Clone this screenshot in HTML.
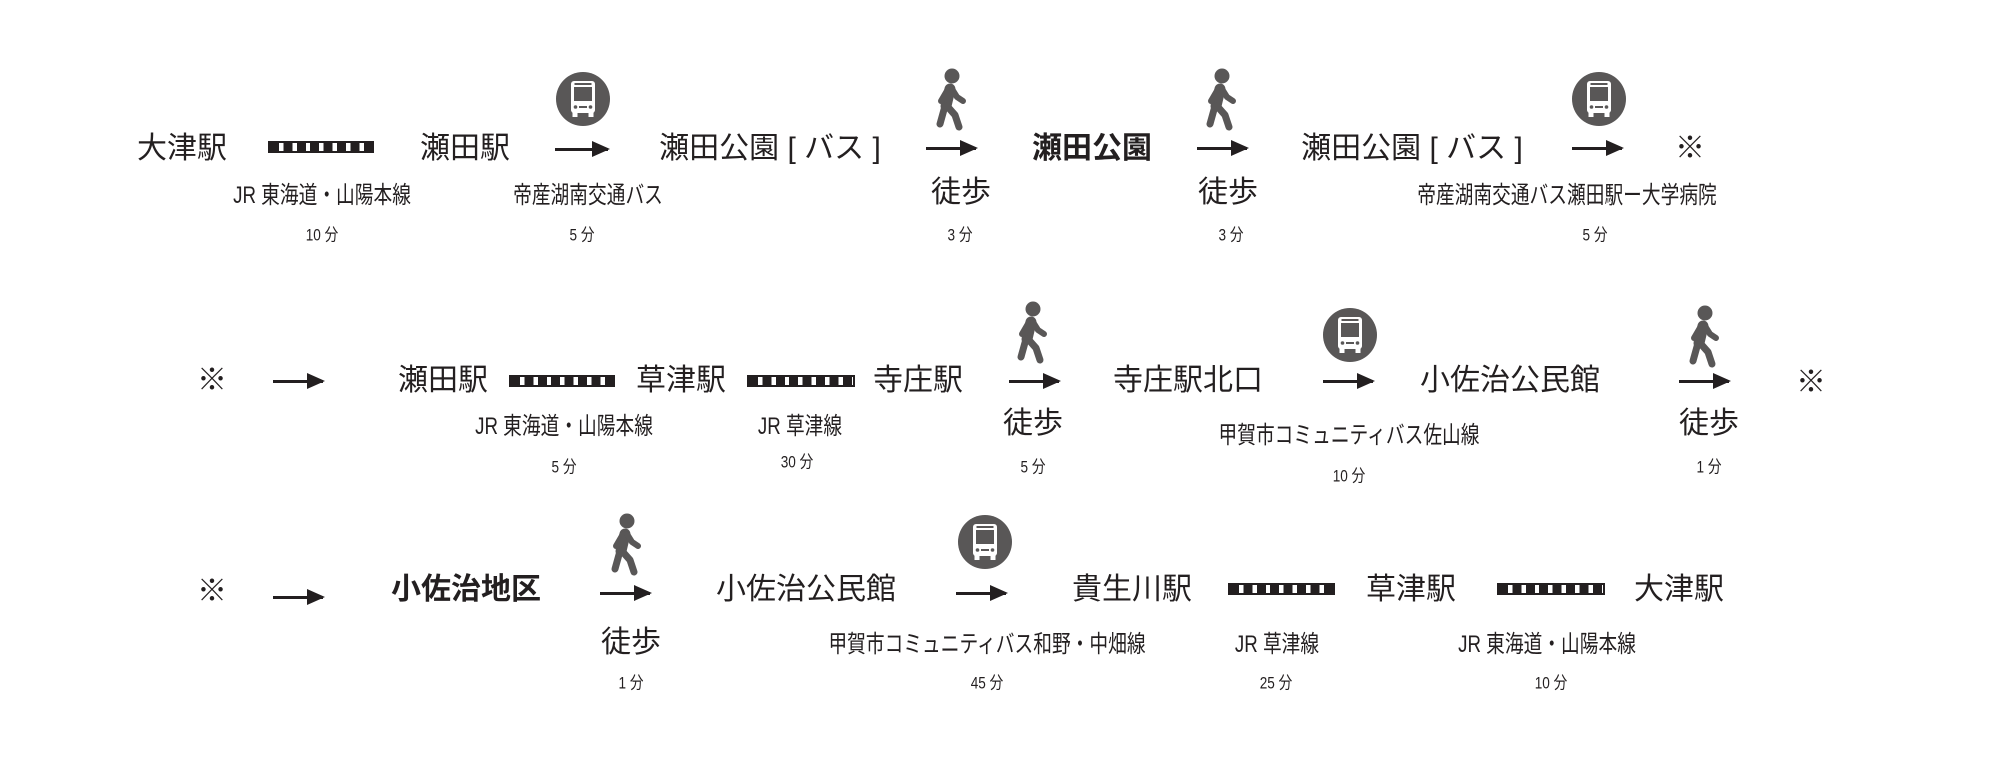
<!DOCTYPE html>
<html><head><meta charset="utf-8"><style>
body{margin:0;width:2000px;height:771px;background:#fff;position:relative;overflow:hidden;font-family:"Liberation Sans","Noto Sans CJK JP",sans-serif;color:#231f20}
.t{position:absolute;transform:translate(-50%,-50%);white-space:nowrap;line-height:1}
.m{font-size:30px}
.b{font-weight:bold}
.l{font-size:24px;transform:translate(-50%,-50%) scaleX(0.78)}
.n{font-size:17px;transform:translate(-50%,-50%) scaleX(0.8)}
.w{font-size:30px}
.bar{position:absolute;height:12px;margin-top:-6px;background:repeating-linear-gradient(90deg,#231f20 0 9px,#fff 9px 13.4px);border:2px solid #231f20;box-sizing:border-box}
.ar{position:absolute;height:3px;margin-top:-1.5px;background:#231f20}
.ar:after{content:"";position:absolute;right:-2px;top:-7px;border-left:18px solid #231f20;border-top:8.5px solid transparent;border-bottom:8.5px solid transparent}
.ic{position:absolute;transform:translate(-50%,-50%)}
</style></head><body>
<svg width="0" height="0" style="position:absolute"><defs>
<symbol id="bus" viewBox="0 0 54 54"><circle cx="27" cy="27" r="27" fill="#595757"/><rect x="15" y="9" width="24" height="32" rx="3" fill="#fff"/><rect x="18" y="15" width="18" height="14" fill="#595757"/><rect x="18.5" y="11" width="17" height="2" fill="#595757"/><circle cx="19.5" cy="35" r="1.8" fill="#595757"/><circle cx="34.5" cy="35" r="1.8" fill="#595757"/><rect x="23" y="34" width="8" height="2" fill="#595757"/><rect x="16.5" y="40" width="5" height="5" fill="#fff"/><rect x="32.5" y="40" width="5" height="5" fill="#fff"/></symbol>
<symbol id="walk" viewBox="0 0 40 64"><g fill="none" stroke="#595757" stroke-linecap="round" stroke-linejoin="round"><path d="M18 21 L14 38" stroke-width="11"/><path d="M16 21 L9 33" stroke-width="6"/><path d="M20 21 L25 29 L31 33" stroke-width="6"/><path d="M13 38 L8 56" stroke-width="7"/><path d="M15 38 L23 47 L27 59" stroke-width="7"/></g><circle cx="20" cy="8" r="7.5" fill="#595757"/></symbol>
</defs></svg>

<!-- Row 1 -->
<div class="t m" style="left:182px;top:149px">大津駅</div>
<div class="bar" style="left:268px;top:147px;width:106px"></div>
<div class="t m" style="left:465px;top:149px">瀬田駅</div>
<div class="ar" style="left:555px;top:149px;width:53px"></div>
<svg class="ic" style="left:583px;top:99px" width="54" height="54"><use href="#bus"/></svg>
<div class="t m" style="left:770px;top:149px">瀬田公園 [ バス ]</div>
<svg class="ic" style="left:952px;top:100px" width="40" height="64"><use href="#walk"/></svg>
<div class="ar" style="left:926px;top:148px;width:50px"></div>
<div class="t m b" style="left:1092px;top:149px">瀬田公園</div>
<svg class="ic" style="left:1222px;top:100px" width="40" height="64"><use href="#walk"/></svg>
<div class="ar" style="left:1197px;top:148px;width:50px"></div>
<div class="t m" style="left:1412px;top:149px">瀬田公園 [ バス ]</div>
<svg class="ic" style="left:1599px;top:99px" width="54" height="54"><use href="#bus"/></svg>
<div class="ar" style="left:1572px;top:148px;width:50px"></div>
<div class="t m" style="left:1690px;top:149px">※</div>

<div class="t l" style="left:322px;top:196px">JR 東海道・山陽本線</div>
<div class="t l" style="left:588px;top:196px">帝産湖南交通バス</div>
<div class="t w" style="left:961px;top:193px">徒歩</div>
<div class="t w" style="left:1228px;top:193px">徒歩</div>
<div class="t l" style="left:1567px;top:196px">帝産湖南交通バス瀬田駅ー大学病院</div>
<div class="t n" style="left:322px;top:235px">10 分</div>
<div class="t n" style="left:582px;top:235px">5 分</div>
<div class="t n" style="left:960px;top:235px">3 分</div>
<div class="t n" style="left:1231px;top:235px">3 分</div>
<div class="t n" style="left:1595px;top:235px">5 分</div>

<!-- Row 2 -->
<div class="t m" style="left:212px;top:381px">※</div>
<div class="ar" style="left:273px;top:381px;width:50px"></div>
<div class="t m" style="left:443px;top:381px">瀬田駅</div>
<div class="bar" style="left:509px;top:381px;width:106px"></div>
<div class="t m" style="left:681px;top:381px">草津駅</div>
<div class="bar" style="left:747px;top:381px;width:108px"></div>
<div class="t m" style="left:918px;top:381px">寺庄駅</div>
<svg class="ic" style="left:1033px;top:333px" width="40" height="64"><use href="#walk"/></svg>
<div class="ar" style="left:1009px;top:381px;width:50px"></div>
<div class="t m" style="left:1188px;top:381px">寺庄駅北口</div>
<svg class="ic" style="left:1350px;top:335px" width="54" height="54"><use href="#bus"/></svg>
<div class="ar" style="left:1323px;top:381px;width:50px"></div>
<div class="t m" style="left:1510px;top:381px">小佐治公民館</div>
<svg class="ic" style="left:1705px;top:337px" width="40" height="64"><use href="#walk"/></svg>
<div class="ar" style="left:1679px;top:381px;width:50px"></div>
<div class="t m" style="left:1811px;top:383px">※</div>

<div class="t l" style="left:564px;top:427px">JR 東海道・山陽本線</div>
<div class="t l" style="left:800px;top:427px">JR 草津線</div>
<div class="t w" style="left:1033px;top:424px">徒歩</div>
<div class="t l" style="left:1349px;top:436px">甲賀市コミュニティバス佐山線</div>
<div class="t w" style="left:1709px;top:424px">徒歩</div>
<div class="t n" style="left:564px;top:467px">5 分</div>
<div class="t n" style="left:797px;top:462px">30 分</div>
<div class="t n" style="left:1033px;top:467px">5 分</div>
<div class="t n" style="left:1349px;top:476px">10 分</div>
<div class="t n" style="left:1709px;top:467px">1 分</div>

<!-- Row 3 -->
<div class="t m" style="left:212px;top:592px">※</div>
<div class="ar" style="left:273px;top:597px;width:50px"></div>
<div class="t m b" style="left:466px;top:590px">小佐治地区</div>
<svg class="ic" style="left:627px;top:545px" width="40" height="64"><use href="#walk"/></svg>
<div class="ar" style="left:600px;top:593px;width:50px"></div>
<div class="t m" style="left:806px;top:590px">小佐治公民館</div>
<svg class="ic" style="left:985px;top:542px" width="54" height="54"><use href="#bus"/></svg>
<div class="ar" style="left:956px;top:593px;width:50px"></div>
<div class="t m" style="left:1132px;top:590px">貴生川駅</div>
<div class="bar" style="left:1228px;top:589px;width:107px"></div>
<div class="t m" style="left:1411px;top:590px">草津駅</div>
<div class="bar" style="left:1497px;top:589px;width:108px"></div>
<div class="t m" style="left:1679px;top:590px">大津駅</div>

<div class="t w" style="left:631px;top:643px">徒歩</div>
<div class="t l" style="left:987px;top:645px">甲賀市コミュニティバス和野・中畑線</div>
<div class="t l" style="left:1277px;top:645px">JR 草津線</div>
<div class="t l" style="left:1547px;top:645px">JR 東海道・山陽本線</div>
<div class="t n" style="left:631px;top:683px">1 分</div>
<div class="t n" style="left:987px;top:683px">45 分</div>
<div class="t n" style="left:1276px;top:683px">25 分</div>
<div class="t n" style="left:1551px;top:683px">10 分</div>
</body></html>
